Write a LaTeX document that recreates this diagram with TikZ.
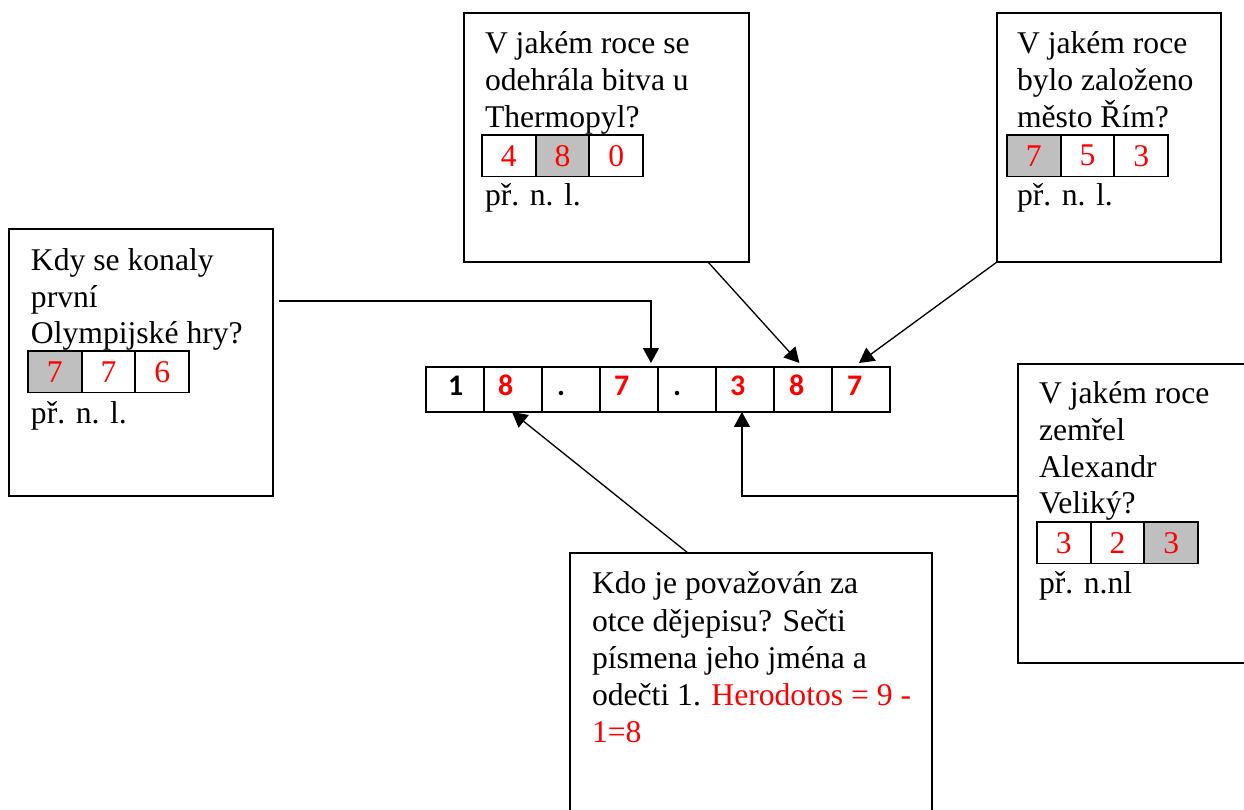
\documentclass[tikz,border=0pt]{standalone}
\usepackage{fontspec}
\setmainfont{Liberation Serif}
\newfontfamily\stripfont{Carlito}
\usetikzlibrary{arrows.meta}
\definecolor{cellgray}{RGB}{191,191,191}
\definecolor{numred}{RGB}{255,0,0}
\begin{document}
\begin{tikzpicture}[x=0.02cm,y=-0.02cm,
  qbox/.style={draw, line width=0.8pt, inner sep=0pt, outer sep=0pt, anchor=north west},
  txt/.style={anchor=base west, inner sep=0pt, outer sep=0pt, font=\fontsize{18}{21}\selectfont},
  rednum/.style={txt, text=numred},
  cell/.style={draw, line width=1.1pt, inner sep=0pt, outer sep=0pt, minimum width=1.074cm, minimum height=0.83cm, anchor=north west, text=numred, font=\fontsize{18}{21}\selectfont},
  gcell/.style={cell, fill=cellgray},
  scell/.style={draw, line width=1.4pt, inner sep=0pt, outer sep=0pt, minimum width=1.16cm, minimum height=0.9cm, anchor=north west},
  sdig/.style={anchor=base west, inner sep=0pt, outer sep=0pt, font=\stripfont\bfseries\fontsize{17}{20}\selectfont},
  arr/.style={draw, line width=0.75pt, -{Triangle[length=0.3cm, width=0.32cm]}}
]
\useasboundingbox (0,0) rectangle (1244,809);

% ---------- question boxes ----------
\node[qbox, minimum width=5.28cm, minimum height=5.34cm] (b1) at (9,229) {};
\node[qbox, minimum width=5.70cm, minimum height=4.98cm] (b2) at (464,13) {};
\node[qbox, minimum width=4.48cm, minimum height=4.98cm] (b3) at (997,13) {};
\node[qbox, minimum width=4.64cm, minimum height=5.98cm] (b4) at (1018,364) {};
\node[qbox, minimum width=7.24cm, minimum height=5.40cm] (b5) at (570,553) {};

% ---------- box 1 ----------
\node[txt] (b1l1) at (31,270) {Kdy se konaly};
\node[txt] (b1l2) at (31,307) {první};
\node[txt] (b1l3) at (31,343) {Olympijské hry?};
\node[gcell] (t1a) at (28,351) {7};
\node[cell, anchor=west] (t1b) at (t1a.east) {7};
\node[cell, anchor=west] (t1c) at (t1b.east) {6};
\node[txt] (b1l4) at (31,423) {př. n. l.};

% ---------- box 2 ----------
\node[txt] (b2l1) at (485,53) {V jakém roce se};
\node[txt] (b2l2) at (485,90) {odehrála bitva u};
\node[txt] (b2l3) at (485,127) {Thermopyl?};
\node[cell] (t2a) at (482,135) {4};
\node[gcell, anchor=west] (t2b) at (t2a.east) {8};
\node[cell, anchor=west] (t2c) at (t2b.east) {0};
\node[txt] (b2l4) at (485,205) {př. n. l.};

% ---------- box 3 ----------
\node[txt] (b3l1) at (1017,53) {V jakém roce};
\node[txt] (b3l2) at (1017,90) {bylo založeno};
\node[txt] (b3l3) at (1017,127) {město Řím?};
\node[gcell] (t3a) at (1007,135) {7};
\node[cell, anchor=west] (t3b) at (t3a.east) {5};
\node[cell, anchor=west] (t3c) at (t3b.east) {3};
\node[txt] (b3l4) at (1017,205) {př. n. l.};

% ---------- box 4 ----------
\node[txt] (b4l1) at (1039,403) {V jakém roce};
\node[txt] (b4l2) at (1039,440) {zemřel};
\node[txt] (b4l3) at (1039,477) {Alexandr};
\node[txt] (b4l4) at (1039,513) {Veliký?};
\node[cell] (t4a) at (1037,522) {3};
\node[cell, anchor=west] (t4b) at (t4a.east) {2};
\node[gcell, anchor=west] (t4c) at (t4b.east) {3};
\node[txt] (b4l5) at (1039,593) {př. n.nl};

% ---------- box 5 ----------
\node[txt] (b5l1) at (592,593) {Kdo je považován za};
\node[txt] (b5l2) at (592,631) {otce dějepisu? Sečti};
\node[txt] (b5l3) at (592,668) {písmena jeho jména a};
\node[txt] (b5l4) at (592,705) {odečti 1. \textcolor{numred}{Herodotos = 9 -}};
\node[rednum] (b5l5) at (592,742) {1=8};

% ---------- answer strip ----------
\node[scell] (s1) at (426,367) {};
\node[scell, anchor=west] (s2) at (s1.east) {};
\node[scell, anchor=west] (s3) at (s2.east) {};
\node[scell, anchor=west] (s4) at (s3.east) {};
\node[scell, anchor=west] (s5) at (s4.east) {};
\node[scell, anchor=west] (s6) at (s5.east) {};
\node[scell, anchor=west] (s7) at (s6.east) {};
\node[scell, anchor=west] (s8) at (s7.east) {};
\node[sdig] (d1) at (448,395) {1};
\node[sdig, text=numred] (d2) at (498,395) {8};
\node[sdig] (d3) at (557,395) {.};
\node[sdig, text=numred] (d4) at (614,395) {7};
\node[sdig] (d5) at (673,395) {.};
\node[sdig, text=numred] (d6) at (730,395) {3};
\node[sdig, text=numred] (d7) at (789,395) {8};
\node[sdig, text=numred] (d8) at (847,395) {7};

% ---------- connectors ----------
\coordinate (a1s) at (279,301);
\draw[arr] (a1s) -| ([xshift=-0.14cm, yshift=0.08cm]s4.north east);
\draw[arr] ([xshift=2.03cm]b2.south) -- ([xshift=-0.07cm, yshift=0.08cm]s7.north);
\draw[arr] (b3.south west) -- ([xshift=-0.04cm, yshift=0.08cm]s8.north);
\draw[arr] ([yshift=0.35cm]b4.west) -| ([xshift=-0.06cm]s6.south);
\draw[arr] ([xshift=-1.26cm]b5.north) -- ([xshift=-0.02cm]s2.south);
\end{tikzpicture}
\end{document}
